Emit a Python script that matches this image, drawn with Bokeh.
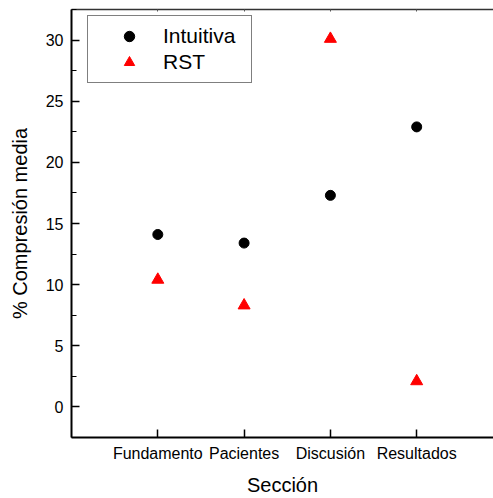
from bokeh.plotting import figure
from bokeh.models import FixedTicker, SingleIntervalTicker, LinearAxis, Range1d, Legend, LegendItem
from bokeh.embed import file_html
from bokeh.resources import INLINE

categories = ["Fundamento", "Pacientes", "Discusión", "Resultados"]
intuitiva = [14.1, 13.4, 17.3, 22.9]
rst = [10.4, 8.3, 30.1, 2.1]

xpos = list(range(1, len(categories) + 1))
FONT = "Liberation Sans"

p = figure(width=493, height=498, output_backend="svg", toolbar_location=None,
           x_range=Range1d(0, 4.89), y_range=Range1d(-2.5, 32.5),
           min_border_left=71, min_border_top=9, min_border_right=0, min_border_bottom=58)
p.xgrid.visible = False
p.ygrid.visible = False
p.outline_line_color = None
p.background_fill_color = "white"

r1 = p.scatter(xpos, intuitiva, marker="circle", size=10, color="black")
r2 = p.scatter(xpos, rst, marker="triangle", size=12, color="red")

# bottom axis
xa = p.xaxis[0]
xa.ticker = FixedTicker(ticks=xpos)
xa.major_label_overrides = {i: c for i, c in zip(xpos, categories)}
xa.minor_tick_line_color = None
xa.major_tick_in = 8
xa.major_tick_out = 0
xa.axis_line_width = 2
xa.major_tick_line_width = 1.5
xa.major_label_standoff = 7
xa.major_label_text_font = FONT
xa.major_label_text_font_size = "16px"
xa.major_label_text_color = "black"
xa.axis_label = "Sección"
xa.axis_label_text_font = FONT
xa.axis_label_text_font_size = "20px"
xa.axis_label_text_font_style = "normal"
xa.axis_label_text_color = "black"
xa.axis_label_standoff = 9

# left axis
ya = p.yaxis[0]
ya.ticker = SingleIntervalTicker(interval=5, num_minor_ticks=2)
ya.major_tick_in = 8
ya.major_tick_out = 0
ya.minor_tick_in = 5
ya.minor_tick_out = 0
ya.axis_line_width = 2
ya.major_tick_line_width = 1.5
ya.major_label_standoff = 8
ya.major_label_text_font = FONT
ya.major_label_text_font_size = "16px"
ya.major_label_text_color = "black"
ya.axis_label = "% Compresión media"
ya.axis_label_text_font = FONT
ya.axis_label_text_font_size = "20px"
ya.axis_label_text_font_style = "normal"
ya.axis_label_text_color = "black"
ya.axis_label_standoff = 12

# top axis (line with tiny ticks, no labels)
top = LinearAxis(ticker=FixedTicker(ticks=xpos), major_label_text_font_size="0px",
                 major_label_standoff=0, major_tick_in=2, major_tick_out=0,
                 minor_tick_line_color=None, axis_line_width=1.5,
                 axis_line_color="#333333", major_tick_line_color="#555555")
top.major_label_overrides = {i: "" for i in xpos}
p.add_layout(top, "above")

legend = Legend(items=[LegendItem(label="Intuitiva", renderers=[r1]),
                       LegendItem(label="RST", renderers=[r2])],
                location=(16, 354), padding=7, spacing=0,
                glyph_width=68, glyph_height=26, label_height=24, label_width=81,
                label_standoff=0,
                label_text_font=FONT, label_text_font_size="21px", label_text_color="black",
                border_line_color="black", border_line_width=1,
                background_fill_color="white", background_fill_alpha=1.0, margin=0)
p.add_layout(legend, "center")

open("out.html", "w").write(file_html(p, INLINE))
